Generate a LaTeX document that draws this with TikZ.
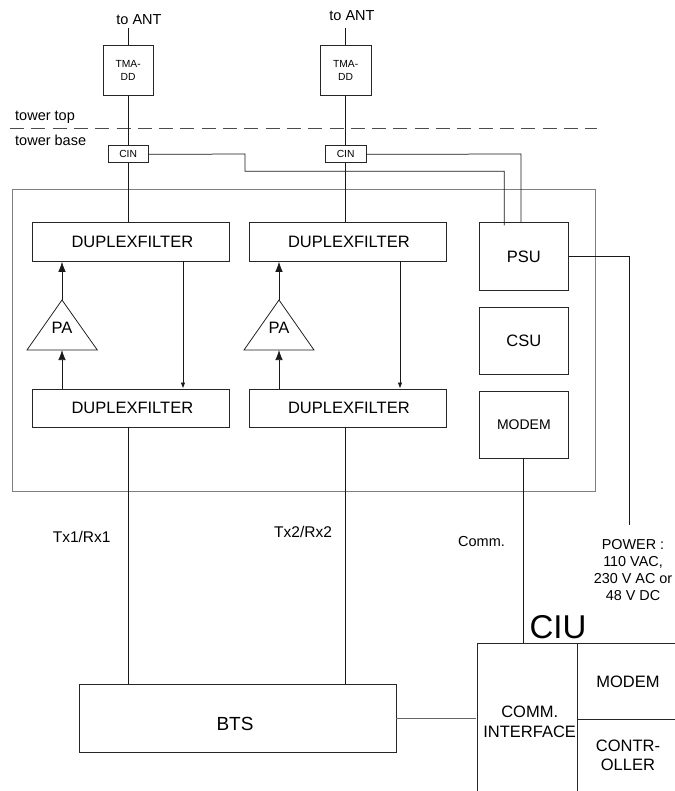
\documentclass[tikz,border=0pt]{standalone}
\usepackage{fontspec}
\setmainfont{Liberation Sans}
\usetikzlibrary{arrows.meta}
\tikzset{
 box/.style={draw=black!85,line width=.75pt,inner sep=0pt,align=center,anchor=north west},
 wire/.style={draw=black!90,line width=.75pt},
 arr/.style={wire,-{Latex[length=10pt,width=7.5pt]}},
 arrs/.style={wire,-{Latex[length=6pt,width=4.5pt]}},
 lbl/.style={inner sep=0pt,align=center,font=\fontsize{14.5}{17}\selectfont},
 small/.style={font=\fontsize{10.3}{13}\selectfont},
 big/.style={font=\fontsize{16.5}{19}\selectfont},
}
\newcommand{\dfl}{\hspace{3pt}\raisebox{-1.5pt}{DUPLEXFILTER}}
\begin{document}
\begin{tikzpicture}[x=1pt,y=-1pt]
\useasboundingbox (0,0) rectangle (674,791);
\draw[draw=black!50,line width=.8pt] (12.5,189.5) rectangle (595.5,491);
\draw[draw=black!70,line width=.8pt,dash pattern=on 14pt off 7.3pt] (10,128.5) -- (597,128.5);
\node[box,small,minimum width=50.5pt,minimum height=50.5pt] (tma1) at (102.5,45) {TMA-\\DD};
\node[box,small,minimum width=50.5pt,minimum height=50.5pt] (tma2) at (320,45) {TMA-\\DD};
\node[box,small,minimum width=40.5pt,minimum height=17pt] (cin1) at (107.5,145.5) {CIN};
\node[box,small,minimum width=40.5pt,minimum height=17pt] (cin2) at (325,145.5) {CIN};
\node[box,big,minimum width=197pt,minimum height=38.5pt] (dt1) at (32,222.5) {\dfl};
\node[box,big,minimum width=197pt,minimum height=38.5pt] (dt2) at (248.5,222.5) {\dfl};
\node[box,big,minimum width=197pt,minimum height=38.5pt] (db1) at (32,388.5) {\dfl};
\node[box,big,minimum width=197pt,minimum height=38.5pt] (db2) at (248.5,388.5) {\dfl};
\node[box,big,minimum width=89pt,minimum height=67.5pt] (psu) at (479,222.5) {PSU};
\node[box,big,minimum width=89pt,minimum height=67pt] (csu) at (479,306.5) {CSU};
\node[box,font=\fontsize{14}{17}\selectfont,minimum width=89pt,minimum height=67pt] (mod) at (479,390.7) {MODEM};
\node[box,minimum width=317pt,minimum height=68pt] (bts) at (78.7,684.3) {};
\node[lbl,font=\fontsize{19}{22}\selectfont] (btsl) at (235,724) {BTS};
\node[box,font=\fontsize{16.5}{19.3}\selectfont,minimum width=100pt,minimum height=150pt] (comm) at (477.3,643.3) {\hspace{4pt}\rule{0pt}{18pt}COMM.\\\hspace{4pt}INTERFACE};
\node[box,big,minimum width=97.5pt,minimum height=75.7pt] (cmod) at (577.3,643.3) {\hspace{3pt}MODEM};
\node[box,big,minimum width=97.5pt,minimum height=72pt] (ctrl) at (577.3,719) {\hspace{3pt}CONTR-\\\hspace{3pt}OLLER};
% amplifiers
\draw[wire] (62,300) coordinate (pa1t) -- (97.3,350) -- (27,350) -- cycle;
\draw[wire] (279,300) coordinate (pa2t) -- (314,350) -- (244,350) -- cycle;
\coordinate (pa1b) at (62,350); \coordinate (pa2b) at (279,350);
\node[lbl,font=\fontsize{16.5}{19}\selectfont] (pa1) at (62,328) {PA};
\node[lbl,font=\fontsize{16.5}{19}\selectfont] (pa2) at (279,328) {PA};
% labels
\node[lbl] (ant1) at (139,20) {to ANT};
\node[lbl] (ant2) at (352,16) {to ANT};
\coordinate (a1) at (tma1.north|-0,28); \coordinate (a2) at (tma2.north|-0,28);
\node[lbl,anchor=west] at (15,117) {tower top};
\node[lbl,anchor=west] at (15,140) {tower base};
\node[lbl,anchor=west,font=\fontsize{15.5}{17}\selectfont] at (52.6,537) {Tx1/Rx1};
\node[lbl,anchor=west,font=\fontsize{15.5}{17}\selectfont] at (274,532) {Tx2/Rx2};
\node[lbl,anchor=west] at (458,542) {Comm.};
\node[lbl,font=\fontsize{14.4}{17}\selectfont] at (633,570.5) {POWER :\\110 VAC,\\230 V AC or\\48 V DC};
\node[lbl,font=\fontsize{33}{36}\selectfont,anchor=base] at (558,638) {CIU};
% wires
\draw[wire] (a1) -- (tma1.north);
\draw[wire] (a2) -- (tma2.north);
\draw[wire] (tma1.south) -- (cin1.north);
\draw[wire] (tma2.south) -- (cin2.north);
\draw[wire] (cin1.south) -- (dt1.north-|cin1.south);
\draw[wire] (cin2.south) -- (dt2.north-|cin2.south);
\draw[wire] (cin1.east) -- (245,154) -- (245,171.3) -- (504.3,171.3) -- (504.3,225.5);
\draw[wire] (cin2.east) -- (521,154) -- (521,222.5);
\draw[arr] (db1.north-|pa1b) -- (pa1b);
\draw[arr] (pa1t) -- (dt1.south-|pa1t);
\draw[arr] (db2.north-|pa2b) -- (pa2b);
\draw[arr] (pa2t) -- (dt2.south-|pa2t);
\draw[arrs] (183,261) -- (183,388.5);
\draw[arrs] (400,261) -- (400,388.5);
\draw[wire] (128,426.5) -- (128,684.3);
\draw[wire] (345,426.5) -- (345,684.3);
\draw[wire] (523,457.7) -- (523,643.3);
\draw[wire] (psu.east|-0,256.7) -- (629,256.7) -- (629,525);
\draw[wire,draw=black!60] (bts.east|-0,718) -- (475.7,718);
\end{tikzpicture}
\end{document}
